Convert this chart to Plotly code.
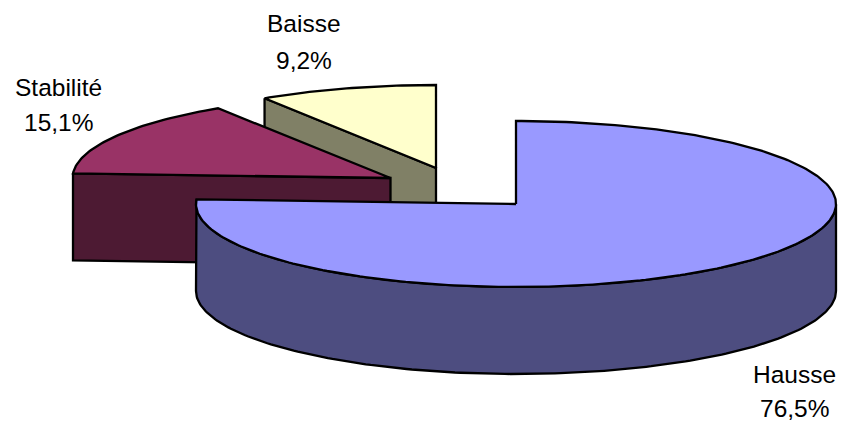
import math
import plotly.graph_objects as go

# Data
categories = ["Hausse", "Stabilité", "Baisse"]
values = [76.5, 15.1, 9.2]
value_labels = ["76,5%", "15,1%", "9,2%"]

# Styling / projection
W, H = 844, 423
RY, DEPTH = 83, 87
radii = {"Hausse": 320, "Stabilité": 318, "Baisse": 316}
centers = {"Hausse": (516, 204), "Stabilité": (390.5, 178), "Baisse": (436, 168)}
top_colors = {"Hausse": "#9999FF", "Stabilité": "#993366", "Baisse": "#FFFFCC"}
side_colors = {"Hausse": "#4D4D80", "Stabilité": "#4D1A33", "Baisse": "#808066"}
label_pos = {"Hausse": (794, 374, 408.5), "Stabilité": (58, 87, 122), "Baisse": (304, 23, 60)}
FONT = "Liberation Sans, Arial, sans-serif"

total = sum(values)
spans = {}
acc = 0.0
for c, v in zip(categories, values):
    spans[c] = (acc, acc + v / total * 360)
    acc += v / total * 360


def rim(c, a0, a1, dy=0, step=1.0):
    cx, cy = centers[c]
    n = max(2, int(abs(a1 - a0) / step) + 1)
    xs, ys = [], []
    for i in range(n):
        a = math.radians(a0 + (a1 - a0) * i / (n - 1))
        xs.append(cx + radii[c] * math.sin(a))
        ys.append(cy - RY * math.cos(a) + dy)
    return xs, ys


def poly(fig, xs, ys, fill):
    fig.add_trace(go.Scatter(
        x=xs + xs[:1], y=ys + ys[:1], mode="lines", fill="toself", fillcolor=fill,
        line=dict(color="black", width=2.3), hoverinfo="skip", showlegend=False,
    ))


fig = go.Figure()

for c in ["Baisse", "Stabilité"]:
    a0, a1 = spans[c]
    cx, cy = centers[c]
    # radial wall seen from the front (from the left end to the apex)
    xe, ye = rim(c, a0, a0)
    xe, ye = xe[0], ye[0]
    poly(fig, [xe, cx, cx, xe], [ye, cy, cy + DEPTH, ye + DEPTH], side_colors[c])
    xs, ys = rim(c, a0, a1)
    poly(fig, [cx] + xs, [cy] + ys, top_colors[c])

c = "Hausse"
a0, a1 = spans[c]
cx, cy = centers[c]
xs_top, ys_top = rim(c, 90, a1)
xs_bot, ys_bot = rim(c, 90, 270, dy=DEPTH)
poly(fig, xs_top + [xs_bot[-1]] + xs_bot[::-1], ys_top + [ys_bot[-1]] + ys_bot[::-1], side_colors[c])
xs, ys = rim(c, a0, a1)
poly(fig, [cx] + xs, [cy] + ys, top_colors[c])

annotations = []
for c, lab in zip(categories, value_labels):
    x, y1, y2 = label_pos[c]
    for txt, y in ((c, y1), (lab, y2)):
        annotations.append(dict(x=x, y=y, text=txt, showarrow=False, xanchor="center", yanchor="middle",
                                font=dict(family=FONT, size=24.5, color="black")))

fig.update_layout(
    width=W, height=H, margin=dict(l=0, r=0, t=0, b=0),
    paper_bgcolor="white", plot_bgcolor="white", showlegend=False,
    xaxis=dict(range=[0, W], visible=False, fixedrange=True),
    yaxis=dict(range=[H, 0], visible=False, fixedrange=True),
    annotations=annotations,
)
fig.write_html(
    "out.html",
    config=dict(displayModeBar=False),
    post_script="document.body.style.margin='0';document.body.style.overflow='hidden';",
)
